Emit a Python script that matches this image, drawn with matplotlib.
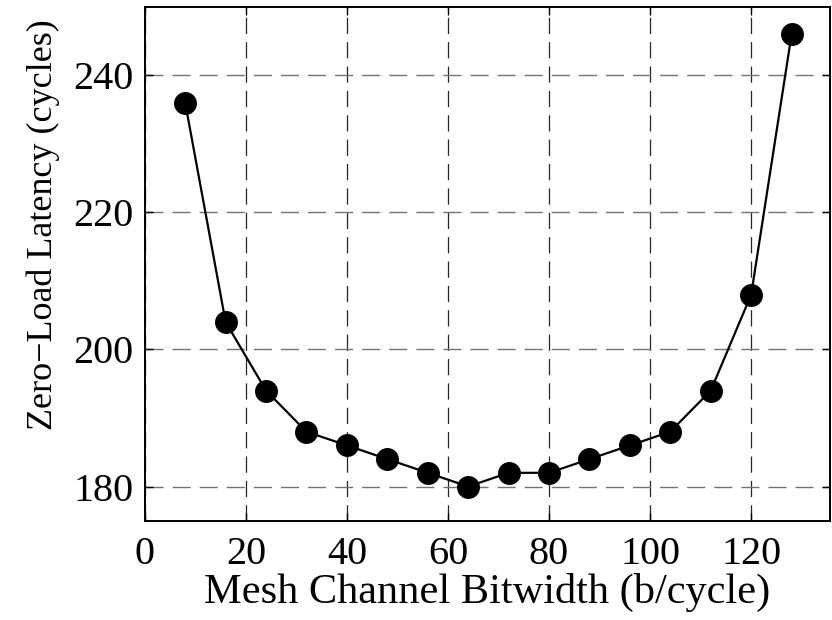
import matplotlib
matplotlib.use("Agg")
import matplotlib.pyplot as plt

# data
bitwidth = [8, 16, 24, 32, 40, 48, 56, 64, 72, 80, 88, 96, 104, 112, 120, 128]
latency = [236, 204, 194, 188, 186, 184, 182, 180, 182, 182, 184, 186, 188, 194, 208, 246]
xticks = [0, 20, 40, 60, 80, 100, 120]
yticks = [180, 200, 220, 240]

plt.rcParams['font.family'] = ['Liberation Serif', 'DejaVu Serif']

fig = plt.figure(figsize=(8.32, 6.2), dpi=100)
ax = fig.add_axes([0.174, 0.16, 0.823, 0.829])

ax.plot(bitwidth, latency, color='black', linewidth=1.6, marker='o',
        markersize=15.5, markerfacecolor='black', markeredgecolor='black',
        zorder=3)

ax.set_xlim(0, 135.5)
ax.set_ylim(175, 250)
ax.set_xticks(xticks)
ax.set_yticks(yticks)

ax.xaxis.grid(True, color='0.15', linestyle=(0, (13, 6.5)), linewidth=0.9)
ax.yaxis.grid(True, color='0.45', linestyle=(0, (13, 6.5)), linewidth=1.0)
ax.set_axisbelow(True)

ax.tick_params(direction='in', length=6, width=1.0, top=True, right=True,
               labelsize=29)
ax.tick_params(axis='y', pad=8)
ax.tick_params(axis='x', pad=11)
for s in ax.spines.values():
    s.set_linewidth(1.4)

ax.set_xlabel('Mesh Channel Bitwidth (b/cycle)', fontsize=30.5, labelpad=0)
ax.set_ylabel('Zero\u2212Load Latency (cycles)', fontsize=26)
ax.yaxis.set_label_coords(-0.124, 0.576)

fig.savefig('out.png', dpi=100)
